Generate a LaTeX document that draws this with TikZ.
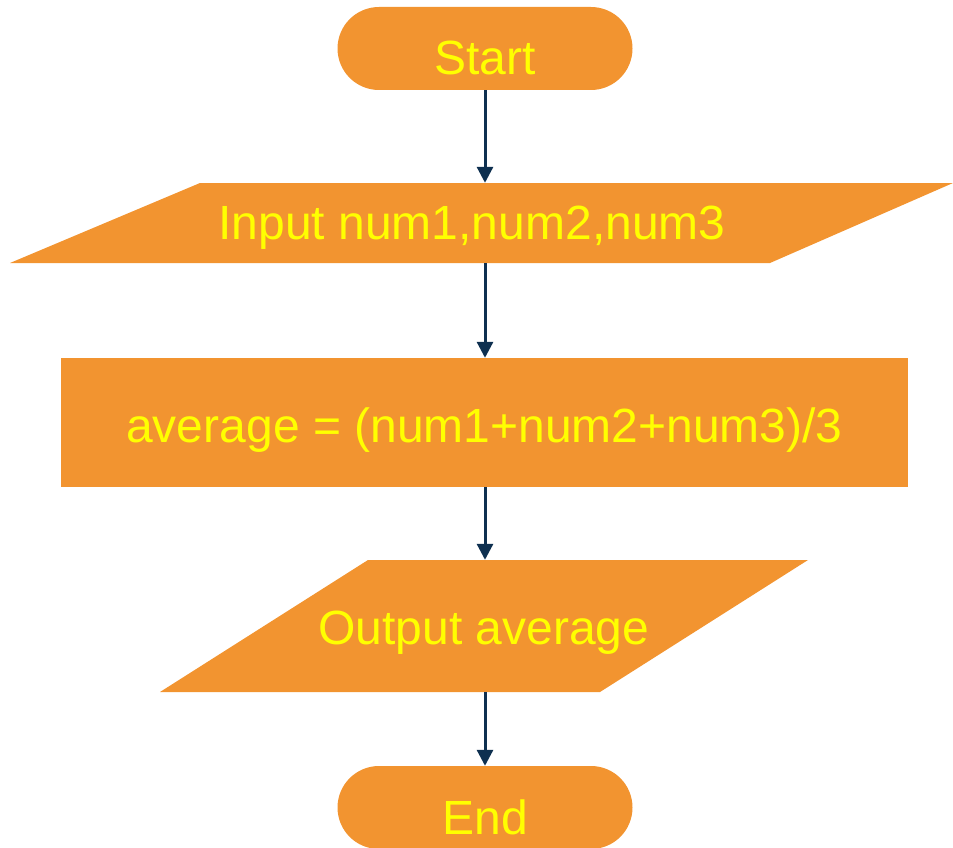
\documentclass[tikz,border=0pt]{standalone}
\usepackage{fontspec}
\setmainfont{Liberation Sans}
\usetikzlibrary{shapes.misc,arrows.meta}
\definecolor{boxorange}{RGB}{242,148,48}
\definecolor{textyellow}{RGB}{255,255,0}
\definecolor{arrownavy}{RGB}{14,48,80}
\begin{document}
\begin{tikzpicture}[x=1pt,y=-1pt,
		every node/.style={text=textyellow,inner sep=0pt,font=\fontsize{48}{58}\selectfont},
		terminal/.style={rounded rectangle,fill=boxorange,minimum width=295pt,minimum height=83pt,text height=53pt,text depth=0pt},
		iobox/.style={rectangle,minimum width=560pt},
		procbox/.style={rectangle,fill=boxorange,minimum width=847pt,minimum height=129pt,text height=40pt,text depth=1pt},
		flow/.style={draw=arrownavy,line width=3pt,-{Triangle[width=16pt,length=16pt]}}]
	\useasboundingbox (0,0) rectangle (953,848);
	\fill[boxorange] (200,183) -- (953,183) -- (770,263) -- (10,263) -- cycle;
	\fill[boxorange] (368,560) -- (808,560) -- (600,692) -- (160,692) -- cycle;
	\node[terminal] (start) at (485,48.5) {Start};
	\node[iobox,minimum height=80pt,text height=34pt,text depth=2pt]
		(input) at (472,223) {Input num1,num2,num3};
	\node[procbox] (proc) at (484.5,422.5) {average = (num1+num2+num3)/3};
	\node[iobox,minimum height=132pt,text height=38pt,text depth=2pt]
		(output) at (484,626) {Output average};
	\node[terminal] (end) at (485,807.5) {End};
	\draw[flow] (start.south) -- (start.south |- input.north);
	\draw[flow] (start.south |- input.south) -- (start.south |- proc.north);
	\draw[flow] (start.south |- proc.south) -- (start.south |- output.north);
	\draw[flow] (start.south |- output.south) -- (end.north);
\end{tikzpicture}
\end{document}
